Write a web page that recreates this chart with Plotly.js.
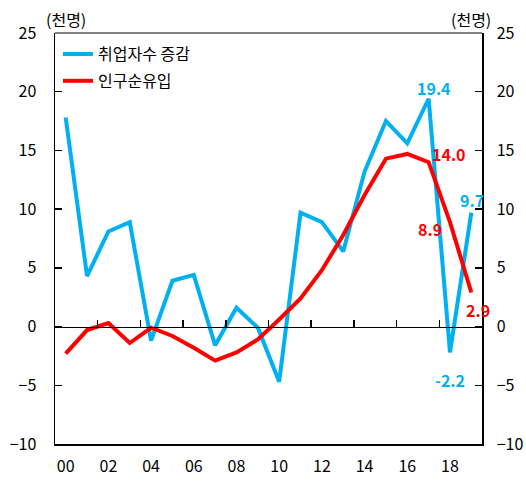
<!DOCTYPE html>
<html>
<head>
<meta charset="utf-8">
<script src="https://cdn.plot.ly/plotly-3.0.1.min.js"></script>
<style>html,body{margin:0;padding:0;background:#fff;}#chart{width:526px;height:483px;}</style>
</head>
<body>
<div id="chart"></div>
<script>
var years = [0,1,2,3,4,5,6,7,8,9,10,11,12,13,14,15,16,17,18,19];
var tickLabels = ['00','02','04','06','08','10','12','14','16','18'];
var tickYears = [0,2,4,6,8,10,12,14,16,18];
var employment = [17.8,4.3,8.1,8.9,-1.2,3.9,4.4,-1.6,1.6,-0.1,-4.7,9.7,8.9,6.4,13.2,17.5,15.6,19.4,-2.2,9.7];
var migration = [-2.3,-0.3,0.3,-1.4,-0.1,-0.8,-1.8,-2.9,-2.2,-1.1,0.6,2.4,4.8,7.8,11.2,14.3,14.7,14.0,8.9,2.9];
var seriesNames = ['취업자수 증감','인구순유입'];
var unitLabel = '(천명)';

var blue = '#00B0F0', red = '#FF0000';
var font = "'Noto Sans CJK KR', 'Noto Sans', sans-serif";

var traces = [
  {x: years, y: employment, name: seriesNames[0], type: 'scatter', mode: 'lines', legendgroup: 'a',
   line: {color: blue, width: 4}, xaxis: 'x', yaxis: 'y'},
  {x: years, y: migration, name: seriesNames[1], type: 'scatter', mode: 'lines', legendgroup: 'b',
   line: {color: red, width: 4}, xaxis: 'x', yaxis: 'y2'},
  {x: [0], y: [0], type: 'scatter', mode: 'none', showlegend: false, hoverinfo: 'skip',
   xaxis: 'x2', yaxis: 'y'}
];

function ann(xi, yv, text, color, xs, ys) {
  return {x: years[xi], y: yv, xref: 'x', yref: 'y', text: '<b>' + text + '</b>', showarrow: false,
    font: {family: font, size: 16, color: color}, xshift: xs, yshift: ys};
}

var layout = {
  width: 526, height: 483,
  margin: {l: 55, r: 44, t: 33, b: 39},
  paper_bgcolor: '#fff', plot_bgcolor: '#fff',
  font: {family: font, size: 16, color: '#000'},
  showlegend: true,
  legend: {x: 0.007, y: 0.99, xanchor: 'left', yanchor: 'top', bgcolor: 'rgba(0,0,0,0)',
    font: {family: font, size: 16, color: '#000'}, tracegroupgap: 3},
  xaxis: {range: [-0.5, 19.5], tickvals: tickYears, ticktext: tickLabels, ticks: '',
    showgrid: false, zeroline: false, showline: true, linecolor: '#000', linewidth: 1.5,
    tickfont: {family: font, size: 16}, ticklabelstandoff: 7, fixedrange: true},
  xaxis2: {overlaying: 'x', anchor: 'free', position: 10/35, range: [-0.5, 19.5],
    tickvals: [1.5,3.5,5.5,7.5,9.5,11.5,13.5,15.5,17.5], ticks: 'inside', ticklen: 7,
    tickcolor: '#000', tickwidth: 1.5, showticklabels: false, showgrid: false, zeroline: false,
    showline: true, linecolor: '#000', linewidth: 1.5, side: 'bottom'},
  yaxis: {range: [-10, 25], dtick: 5, ticks: 'inside', ticklen: 7, tickcolor: '#000', tickwidth: 1.5,
    showgrid: false, zeroline: false, showline: true, linecolor: '#000', linewidth: 1.5,
    tickfont: {family: font, size: 16}, ticklabelstandoff: 14},
  yaxis2: {range: [-10, 25], dtick: 5, overlaying: 'y', side: 'right', anchor: 'x',
    ticks: 'inside', ticklen: 7, tickcolor: '#000', tickwidth: 1.5,
    showgrid: false, zeroline: false, showline: true, linecolor: '#000', linewidth: 1.5,
    tickfont: {family: font, size: 16}, ticklabelstandoff: 10},
  shapes: [
    {type: 'line', xref: 'paper', yref: 'paper', x0: 0, x1: 1, y0: 1, y1: 1,
     line: {color: '#595959', width: 1.5}}
  ],
  annotations: [
    {xref: 'paper', yref: 'paper', x: 0.025, y: 1.0, yshift: 14, xanchor: 'center', yanchor: 'middle',
     text: unitLabel, showarrow: false, font: {family: font, size: 16}},
    {xref: 'paper', yref: 'paper', x: 0.975, y: 1.0, yshift: 14, xanchor: 'center', yanchor: 'middle',
     text: unitLabel, showarrow: false, font: {family: font, size: 16}},
    ann(17, employment[17], '19.4', blue, 5, 11),
    ann(17, migration[17], '14.0', red, 20, 8),
    ann(18, migration[18], '8.9', red, -20, -7),
    ann(19, employment[19], '9.7', blue, 1, 13),
    ann(19, migration[19], '2.9', red, 7, -17),
    ann(18, employment[18], '-2.2', blue, 0, -28)
  ]
};

Plotly.newPlot('chart', traces, layout, {staticPlot: true, displayModeBar: false});
</script>
</body>
</html>
